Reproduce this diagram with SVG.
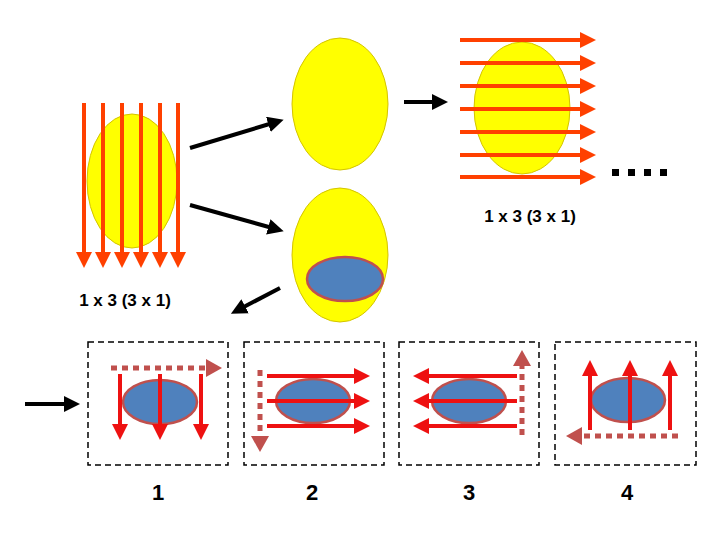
<svg xmlns="http://www.w3.org/2000/svg" width="720" height="540" viewBox="0 0 720 540">
<style>
.yel{fill:#ffff00;stroke:#d4c400;stroke-width:1}
.blu{fill:#4f81bd;stroke:#c0504d;stroke-width:2.5}
.or{stroke:#ff4000;stroke-width:4;fill:none}
.rd{stroke:#ee1111;stroke-width:4;fill:none}
.dsh{stroke:#c0504d;stroke-width:5;stroke-dasharray:6,5;fill:none}
.blk{stroke:#000;stroke-width:4;fill:none}
.box{fill:none;stroke:#000;stroke-width:1.5;stroke-dasharray:6,4}
text{font-family:"Liberation Sans",Arial,sans-serif;font-weight:bold;fill:#000}
</style>
<defs>
<marker id="ho" markerWidth="4" markerHeight="4" refX="2" refY="2" orient="auto" markerUnits="strokeWidth"><path d="M0,0L4,2L0,4z" fill="#ff4000"/></marker>
<marker id="hr" markerWidth="4" markerHeight="4" refX="2" refY="2" orient="auto" markerUnits="strokeWidth"><path d="M0,0L4,2L0,4z" fill="#ee1111"/></marker>
<marker id="hd" markerWidth="3.2" markerHeight="3.6" refX="1.2" refY="1.8" orient="auto" markerUnits="strokeWidth"><path d="M0,0L3.2,1.8L0,3.6z" fill="#c0504d"/></marker>
<marker id="hb" markerWidth="4" markerHeight="4" refX="2" refY="2" orient="auto" markerUnits="strokeWidth"><path d="M0,0L4,2L0,4z" fill="#000"/></marker>
</defs>
<g id="left">
<ellipse class="yel" cx="132" cy="181" rx="45" ry="67"/>
<g class="or" marker-end="url(#ho)">
<line x1="84" y1="103" x2="84" y2="260"/><line x1="103" y1="103" x2="103" y2="260"/><line x1="122" y1="103" x2="122" y2="260"/><line x1="141" y1="103" x2="141" y2="260"/><line x1="160" y1="103" x2="160" y2="260"/><line x1="178" y1="103" x2="178" y2="260"/>
</g>
<text x="125" y="306" font-size="17" text-anchor="middle">1 x 3  (3 x 1)</text>
</g>
<g id="midtop"><ellipse class="yel" cx="340" cy="104" rx="48" ry="66"/></g>
<g id="midbot"><ellipse class="yel" cx="340" cy="255" rx="48" ry="67"/><ellipse class="blu" cx="345" cy="279" rx="38" ry="22"/></g>
<g id="right">
<ellipse class="yel" cx="522" cy="108" rx="48" ry="66"/>
<g class="or" marker-end="url(#ho)">
<line x1="460" y1="40" x2="588" y2="40"/><line x1="460" y1="63" x2="588" y2="63"/><line x1="460" y1="86" x2="588" y2="86"/><line x1="460" y1="109" x2="588" y2="109"/><line x1="460" y1="132" x2="588" y2="132"/><line x1="460" y1="155" x2="588" y2="155"/><line x1="460" y1="177" x2="588" y2="177"/>
</g>
<g fill="#000"><rect x="612" y="169" width="7" height="7"/><rect x="628" y="169" width="7" height="7"/><rect x="644" y="169" width="7" height="7"/><rect x="660" y="169" width="7" height="7"/></g>
<text x="530" y="222" font-size="17" text-anchor="middle">1 x 3  (3 x 1)</text>
</g>
<g id="connectors" class="blk" marker-end="url(#hb)">
<line x1="190" y1="148" x2="276" y2="122"/>
<line x1="190" y1="205" x2="276" y2="229"/>
<line x1="280" y1="288" x2="238" y2="310"/>
<line x1="404" y1="102" x2="440" y2="102"/>
<line x1="25" y1="404" x2="72" y2="404"/>
</g>
<g id="box1">
<rect class="box" x="88" y="342" width="140" height="123"/>
<ellipse class="blu" cx="160" cy="402" rx="37" ry="22"/>
<line class="dsh" x1="111" y1="368" x2="212" y2="368" marker-end="url(#hd)"/>
<g class="rd" marker-end="url(#hr)"><line x1="120" y1="374" x2="120" y2="432"/><line x1="160" y1="374" x2="160" y2="432"/><line x1="201" y1="374" x2="201" y2="432"/></g>
<text x="158" y="500" font-size="22" text-anchor="middle" font-weight="normal">1</text>
</g>
<g id="box2">
<rect class="box" x="244" y="342" width="140" height="123"/>
<ellipse class="blu" cx="313" cy="401" rx="37" ry="22"/>
<line class="dsh" x1="260" y1="370" x2="260" y2="442" marker-end="url(#hd)"/>
<g class="rd" marker-end="url(#hr)"><line x1="267" y1="376" x2="362" y2="376"/><line x1="267" y1="401" x2="362" y2="401"/><line x1="267" y1="426" x2="362" y2="426"/></g>
<text x="312" y="500" font-size="22" text-anchor="middle" font-weight="normal">2</text>
</g>
<g id="box3">
<rect class="box" x="399" y="342" width="140" height="123"/>
<ellipse class="blu" cx="469" cy="401" rx="37" ry="22"/>
<line class="dsh" x1="522" y1="435" x2="522" y2="360" marker-end="url(#hd)"/>
<g class="rd" marker-end="url(#hr)"><line x1="517" y1="376" x2="421" y2="376"/><line x1="517" y1="401" x2="421" y2="401"/><line x1="517" y1="426" x2="421" y2="426"/></g>
<text x="469" y="500" font-size="22" text-anchor="middle" font-weight="normal">3</text>
</g>
<g id="box4">
<rect class="box" x="555" y="342" width="141" height="123"/>
<ellipse class="blu" cx="628" cy="400" rx="37" ry="22"/>
<line class="dsh" x1="678" y1="436" x2="576" y2="436" marker-end="url(#hd)"/>
<g class="rd" marker-end="url(#hr)"><line x1="590" y1="430" x2="590" y2="368"/><line x1="630" y1="430" x2="630" y2="368"/><line x1="670" y1="430" x2="670" y2="368"/></g>
<text x="627" y="500" font-size="22" text-anchor="middle" font-weight="normal">4</text>
</g>
</svg>
